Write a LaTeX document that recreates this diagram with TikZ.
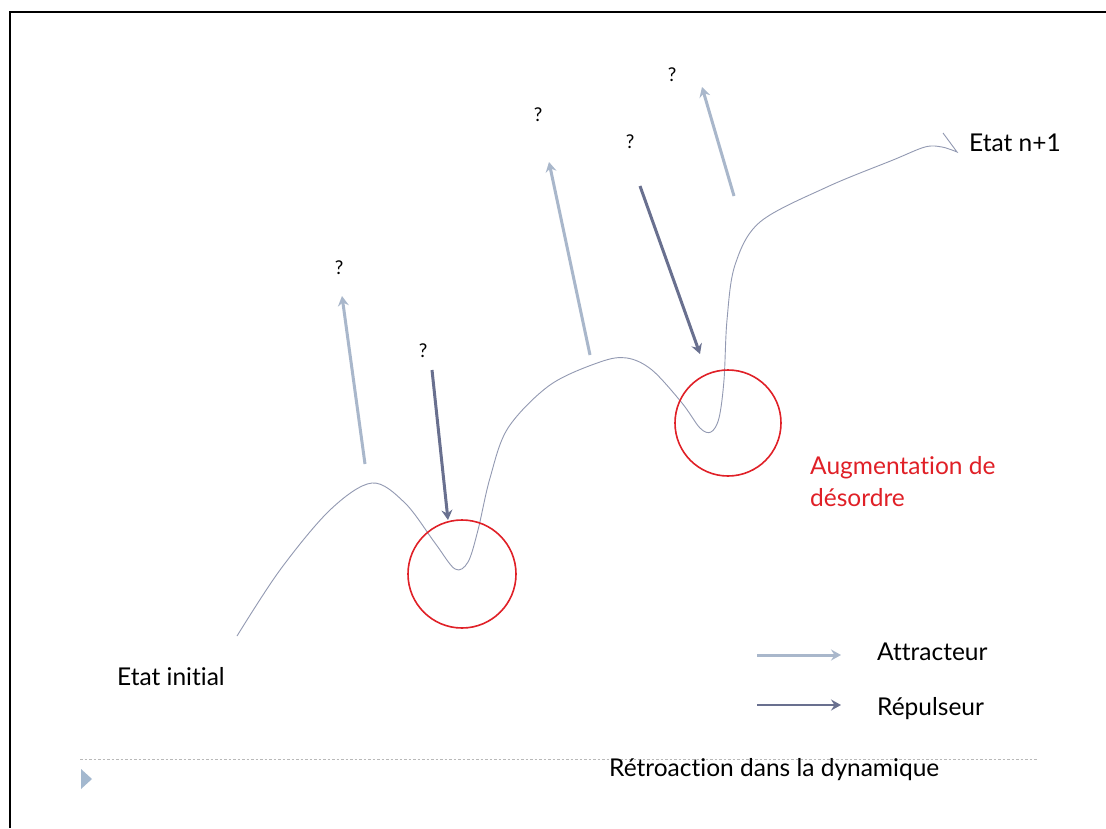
\documentclass[tikz,border=0pt]{standalone}
\usepackage{fontspec}
\setmainfont[Ligatures=NoCommon]{Lato}
\usetikzlibrary{arrows.meta}
\definecolor{attr}{HTML}{A9B7CB}
\definecolor{rep}{HTML}{69708F}
\definecolor{curvec}{HTML}{9299B2}
\definecolor{redc}{HTML}{E02027}
\definecolor{tri}{HTML}{A3B8CF}
\tikzset{
  attrarrow/.style={draw=attr, line width=3pt, -{Stealth[length=10pt,width=11pt,inset=3.5pt]}},
  reparrow/.style={draw=rep, line width=3pt, -{Stealth[length=10pt,width=11pt,inset=3.5pt]}},
  qmark/.style={font=\fontsize{19}{19}\selectfont, inner sep=0pt},
  lbl/.style={font=\fontsize{24.5}{29}\selectfont, inner sep=0pt, anchor=west},
  redcircle/.style={draw=redc, line width=1.6pt},
}
\begin{document}
\begin{tikzpicture}[x=1pt,y=-1pt]
\useasboundingbox (0,0) rectangle (1106,828);
\fill[white] (0,0) rectangle (1106,828);
% frame
\draw[line width=2.2pt] (10,828) -- (10,12) -- (1106,12);
% curve
\draw[curvec, line width=0.9pt] plot[smooth, tension=0.55] coordinates {
 (237,636) (280,570) (330,510) (372,483) (405,503) (435,543) (455,569) (468,562)
 (478,530) (490,478) (508,428) (550,385) (600,362) (627,358) (652,370) (682,403)
 (700,428) (711,432) (719,418) (724,380) (727,320) (735,265) (760,222) (827,187)
 (893,160) (925,147) (942,147) (957,152)} -- (943,133);
% circles
\draw[redcircle] (462,574) circle (54);
\draw[redcircle] (728,423) circle (53);
% arrows
\coordinate (a1s) at (365,464); \coordinate (a1e) at (342,296);
\coordinate (a2s) at (590,355); \coordinate (a2e) at (549,162);
\coordinate (a3s) at (734,196); \coordinate (a3e) at (702,87);
\coordinate (r1s) at (432,370); \coordinate (r1e) at (448,520);
\coordinate (r2s) at (640,186); \coordinate (r2e) at (700,354);
\draw[attrarrow] (a1s) -- (a1e);
\draw[attrarrow] (a2s) -- (a2e);
\draw[attrarrow] (a3s) -- (a3e);
\draw[reparrow] (r1s) -- (r1e);
\draw[reparrow] (r2s) -- (r2e);
% question marks
\node[qmark] (q1) at (339,268) {?};
\node[qmark] (q2) at (423,351) {?};
\node[qmark] (q3) at (538,115) {?};
\node[qmark] (q4) at (630,142) {?};
\node[qmark] (q5) at (672,75) {?};
% labels
\node[lbl] (ei) at (117,677) {Etat initial};
\node[lbl] (en) at (969,143) {Etat n+1};
\node[lbl, text=redc] (aug) at (810,468) {Augmentation de};
\node[lbl, text=redc] (des) at (810,498) {désordre};
% legend
\coordinate (la1) at (757,655); \coordinate (la2) at (841,655);
\coordinate (lr1) at (757,705); \coordinate (lr2) at (841,705);
\draw[attr, line width=3pt, -{Stealth[length=10pt,width=11pt,inset=3.5pt]}] (la1) -- (la2);
\draw[rep, line width=2.6pt, -{Stealth[length=10pt,width=11pt,inset=3.5pt]}] (lr1) -- (lr2);
\node[lbl] (lat) at (877,652) {Attracteur};
\node[lbl] (lrp) at (877,709) {Répulseur};
% footer
\coordinate (d1) at (80,759); \coordinate (d2) at (1037,759);
\draw[gray!55, line width=0.9pt, dash pattern=on 2.5pt off 2pt] (d1) -- (d2);
\fill[tri] (81,769) -- (92,779) -- (81,789) -- cycle;
\node[lbl] (retro) at (609,770) {Rétroaction dans la dynamique};
\end{tikzpicture}
\end{document}
